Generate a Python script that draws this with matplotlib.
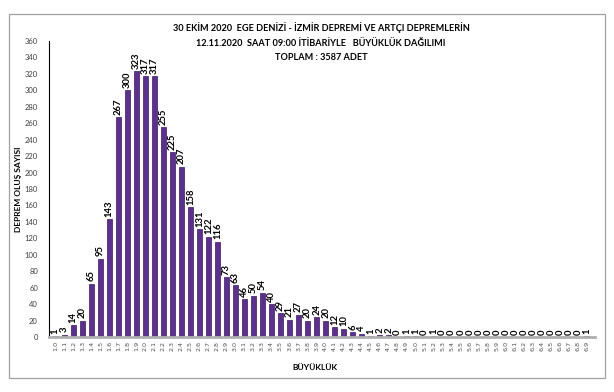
import matplotlib
matplotlib.use('Agg')
import matplotlib.pyplot as plt
import numpy as np
from matplotlib.patches import Rectangle

plt.rcParams['font.family'] = ['Lato', 'DejaVu Sans']

# magnitude classes 1.0 .. 6.9
magnitudes = ['%.1f' % (m / 10) for m in range(10, 70)]
counts = [1, 3, 14, 20, 65, 95, 143, 267, 300, 323,
          317, 317, 255, 225, 207, 158, 131, 122, 116, 73,
          63, 46, 50, 54, 40, 29, 21, 27, 20, 24,
          20, 12, 10, 6, 4, 1, 2, 2, 0, 1,
          1, 0, 1, 0, 0, 0, 0, 0, 0, 0,
          0, 0, 0, 0, 0, 0, 0, 0, 0, 1]

title_lines = ['30 EKİM 2020  EGE DENİZİ - İZMİR DEPREMİ VE ARTÇI DEPREMLERİN',
               '12.11.2020  SAAT 09:00 İTİBARİYLE   BÜYÜKLÜK DAĞILIMI',
               'TOPLAM : 3587 ADET']
ylabel = 'DEPREM OLUŞ SAYISI'
xlabel = 'BÜYÜKLÜK'

fig = plt.figure(figsize=(6.14, 3.92), dpi=100)
fig.patches.append(Rectangle((9 / 614, 1 - 378 / 392), 596 / 614, 364 / 392,
                             transform=fig.transFigure, fill=False,
                             edgecolor='#a0a0a0', linewidth=0.9))

ax = fig.add_axes([49 / 614, 1 - 337 / 392, 546 / 614, 296 / 392])
x = np.arange(len(counts))
ax.bar(x, counts, width=0.55, color='#5e2f92', edgecolor='#3a1866', linewidth=0.5)

for xi, c in zip(x, counts):
    ax.text(xi, c + 3, str(c), rotation=90, ha='center', va='bottom',
            fontsize=6.8, fontweight='bold', color='black')

ax.set_xlim(-0.7, 59.9)
ax.set_ylim(0, 360)
ax.set_yticks(range(0, 361, 20))
ax.set_xticks(x)
ax.set_xticklabels(magnitudes, rotation=90, fontsize=4.6, color='#505050',
                   family='DejaVu Sans')
ax.tick_params(axis='y', labelsize=5.5, labelcolor='#404040', length=0, pad=8)
ax.tick_params(axis='x', length=0, pad=3)
for s in ['top', 'right']:
    ax.spines[s].set_visible(False)
ax.spines['left'].set_linewidth(0.8)
ax.spines['bottom'].set_color('#b0b0b0')
ax.spines['bottom'].set_linewidth(2)

ax.set_ylabel(ylabel, fontsize=6, fontweight='bold')
ax.yaxis.set_label_coords(-27 / 546, 0.5)
fig.text(315 / 614, 1 - 368 / 392, xlabel, fontsize=6, fontweight='bold',
         ha='center', va='center')

for i, line in enumerate(title_lines):
    fig.text(321 / 614, 1 - (28 + 15 * i) / 392, line, fontsize=6.6,
             fontweight='bold', ha='center', va='center')

fig.savefig('out.png', dpi=100)
